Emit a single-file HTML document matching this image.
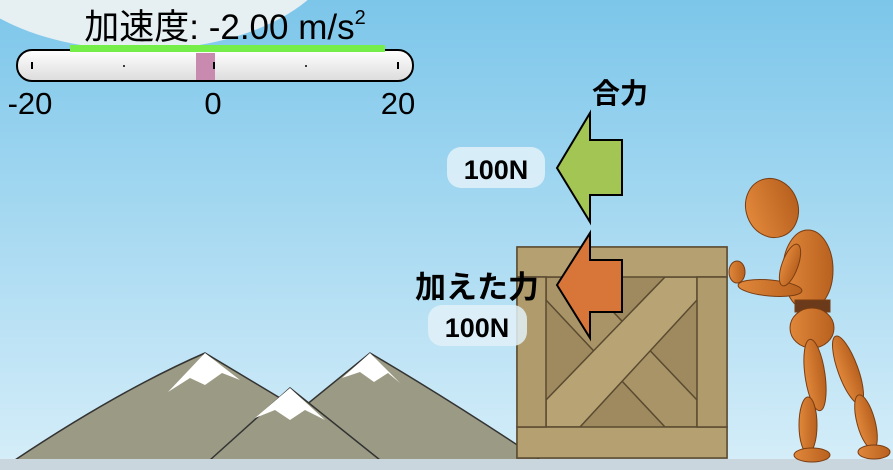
<!DOCTYPE html>
<html><head><meta charset="utf-8"><style>
html,body{margin:0;padding:0;width:893px;height:470px;overflow:hidden}
text{font-family:"Liberation Sans","Noto Sans CJK JP",sans-serif}
</style></head><body>
<svg width="893" height="470" viewBox="0 0 893 470" xmlns="http://www.w3.org/2000/svg">
<defs>
<linearGradient id="sky" x1="0" y1="0" x2="0" y2="1"><stop offset="0" stop-color="#7cc6ea"/><stop offset="1" stop-color="#d6eef9"/></linearGradient>
<linearGradient id="bar" x1="0" y1="0" x2="0" y2="1"><stop offset="0" stop-color="#ffffff"/><stop offset="1" stop-color="#dcdcdc"/></linearGradient>
<linearGradient id="body" x1="0" y1="0" x2="1" y2="0"><stop offset="0" stop-color="#e0873a"/><stop offset="1" stop-color="#b8611f"/></linearGradient>
</defs>
<rect width="893" height="470" fill="url(#sky)"/>
<ellipse cx="140" cy="-60" rx="200" ry="110" fill="#e6eff2"/>
<path d="M15,460 Q120,390 205,353 L300,410 L370,353 Q450,400 540,460 Z" fill="#9b9a84" stroke="#333" stroke-width="1.5"/>
<polygon points="205,353 168,392 190,378 205,385 222,373 240,380" fill="#fff"/>
<polygon points="370,353 342,378 360,372 374,382 388,373 400,383" fill="#fff"/>
<polygon points="210,460 290,388 380,460" fill="#9b9a84" stroke="#333" stroke-width="1.5"/>
<polygon points="290,388 255,418 275,410 290,420 305,410 325,420" fill="#fff"/>
<rect x="0" y="459" width="893" height="11" fill="#c9d6de"/>
<g stroke="#5a4a30" stroke-width="1.5">
<rect x="517" y="247" width="210" height="211" fill="#9e8a5e"/>
<polygon points="546,277 580,277 697,400 697,427 665,427 546,300" fill="#a99468"/>
<polygon points="546,400 665,277 697,277 697,300 580,427 546,427" fill="#b8a374"/>
<rect x="517" y="247" width="210" height="30" fill="#b5a071"/>
<rect x="517" y="427" width="210" height="31" fill="#b5a071"/>
<rect x="517" y="277" width="29" height="150" fill="#b09b6c"/>
<rect x="697" y="277" width="30" height="150" fill="#b09b6c"/>
</g>
<polygon points="557,168 590,113 590,140 622,140 622,195 590,195 590,222" fill="#a3c553" stroke="#000" stroke-width="2"/>
<polygon points="557,285 590,233 590,260 622,260 622,312 590,312 590,338" fill="#d8763a" stroke="#000" stroke-width="2"/>
<text x="620" y="103" font-size="28" font-weight="bold" text-anchor="middle">合力</text>
<rect x="447" y="147" width="98" height="41" rx="14" fill="#e2f1f8" opacity="0.85"/>
<text x="496" y="179" font-size="27" font-weight="bold" text-anchor="middle">100N</text>
<text x="477" y="298" font-size="31" font-weight="bold" text-anchor="middle">加えた力</text>
<rect x="428" y="305" width="99" height="41" rx="14" fill="#e2f1f8" opacity="0.85"/>
<text x="477" y="337" font-size="27" font-weight="bold" text-anchor="middle">100N</text>
<g fill="url(#body)" stroke="#7a3d12" stroke-width="1">
<ellipse cx="772" cy="208" rx="26" ry="30" transform="rotate(-20 772 208)"/>
<ellipse cx="808" cy="270" rx="25" ry="40"/>
<rect x="795" y="300" width="35" height="12" fill="#6a3a1a"/>
<ellipse cx="812" cy="328" rx="22" ry="20"/>
<ellipse cx="815" cy="375" rx="10" ry="36" transform="rotate(-8 815 375)"/>
<ellipse cx="808" cy="425" rx="9" ry="28"/>
<ellipse cx="812" cy="455" rx="18" ry="7"/>
<ellipse cx="848" cy="370" rx="10" ry="36" transform="rotate(-20 848 370)"/>
<ellipse cx="866" cy="422" rx="9" ry="28" transform="rotate(-15 866 422)"/>
<ellipse cx="874" cy="452" rx="16" ry="7"/>
<ellipse cx="770" cy="288" rx="32" ry="8" transform="rotate(5 770 288)"/>
<ellipse cx="790" cy="265" rx="8" ry="22" transform="rotate(20 790 265)"/>
<ellipse cx="737" cy="272" rx="8" ry="11"/>
</g>
<text x="225" y="39" font-size="35" text-anchor="middle">加速度: -2.00 m/s<tspan font-size="20" dy="-15">2</tspan></text>
<rect x="17" y="50" width="396" height="31" rx="15" fill="url(#bar)" stroke="#000" stroke-width="2"/>
<rect x="70" y="45" width="315" height="7" fill="#76ee49"/>
<rect x="196" y="53" width="19" height="27" fill="#c98ab0"/>
<g stroke="#000" stroke-width="2"><line x1="32" y1="62" x2="32" y2="69"/><line x1="214" y1="62" x2="214" y2="69"/><line x1="398" y1="62" x2="398" y2="69"/></g>
<circle cx="124" cy="66" r="1" fill="#000"/><circle cx="306" cy="66" r="1" fill="#000"/>
<text x="30" y="114" font-size="31" text-anchor="middle">-20</text>
<text x="213" y="114" font-size="31" text-anchor="middle">0</text>
<text x="398" y="114" font-size="31" text-anchor="middle">20</text>
</svg>
</body></html>
